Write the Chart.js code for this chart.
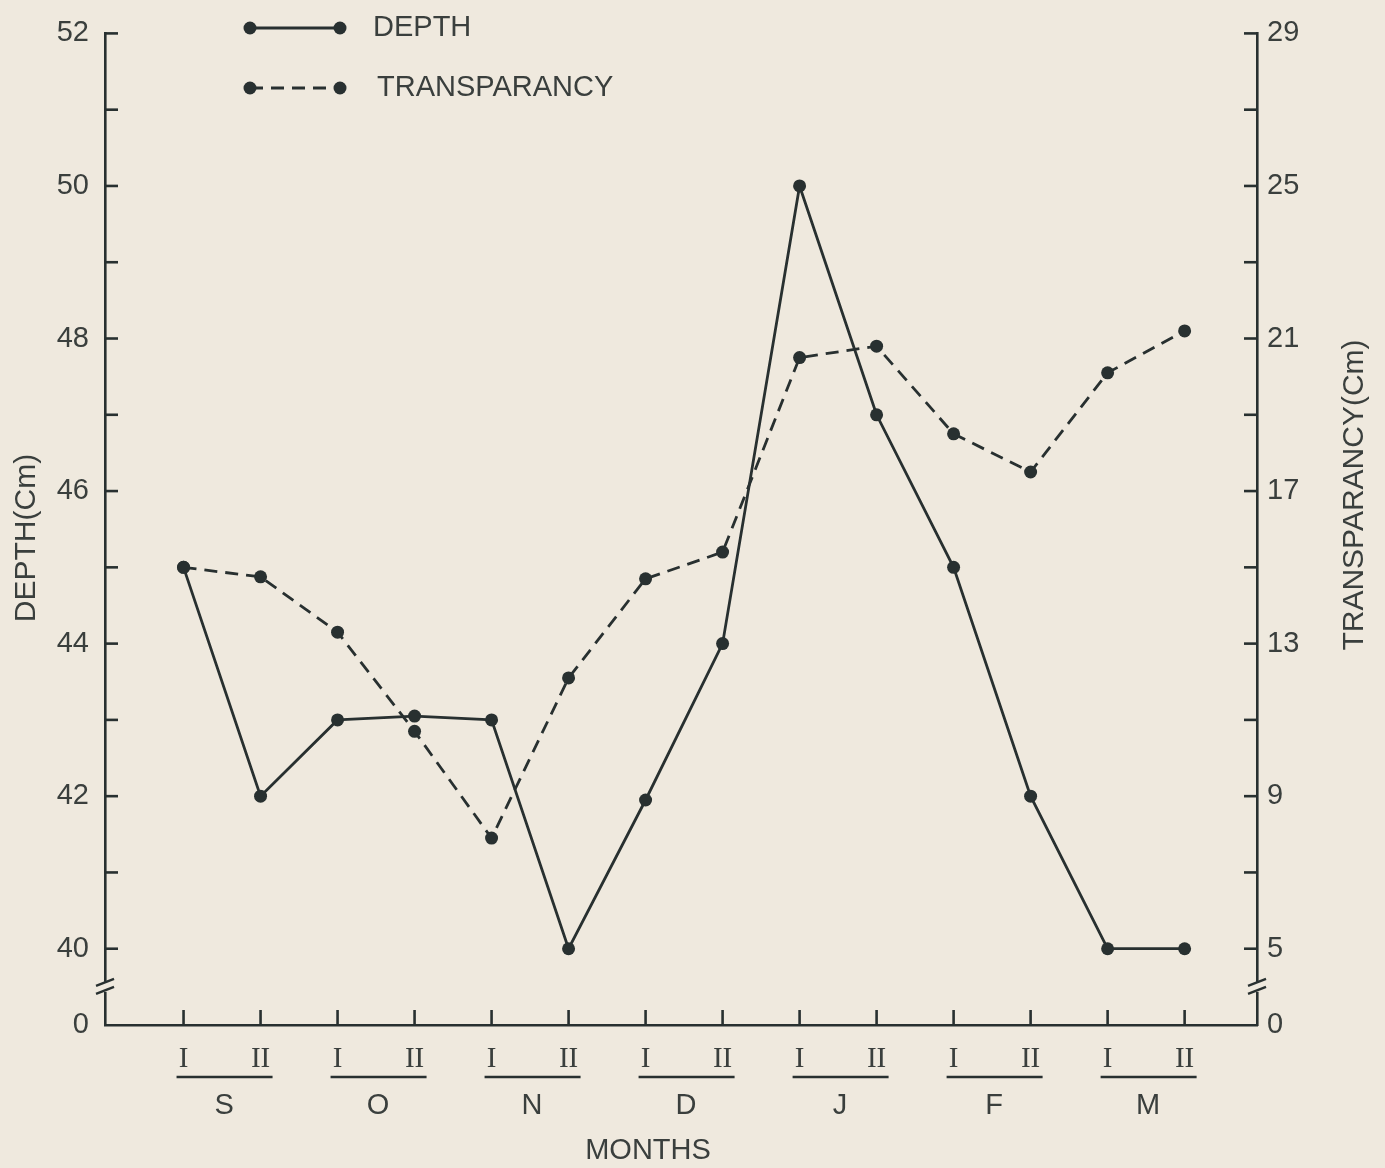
<!DOCTYPE html>
<html>
<head>
<meta charset="utf-8">
<title>Depth and transparency</title>
<script src="https://cdn.jsdelivr.net/npm/chart.js@4"></script>
<style>
  html, body { margin: 0; padding: 0; background: #efe9de; }
  canvas { display: block; }
</style>
</head>
<body>
<canvas id="chart" width="1385" height="1168"></canvas>
<script>
// fortnights (I / II) within each month, September to March
const halves = ["I", "II", "I", "II", "I", "II", "I", "II", "I", "II", "I", "II", "I", "II"];
const months = ["S", "O", "N", "D", "J", "F", "M"];

// depth in cm, left axis
const depth = [45, 42, 43, 43.05, 43, 40, 41.95, 44, 50, 47, 45, 42, 40, 40];
// transparency in cm, right axis
const transparency = [15, 14.75, 13.3, 10.7, 7.9, 12.1, 14.7, 15.4, 20.5, 20.8, 18.5, 17.5, 20.1, 21.2];

// labelled ticks; the bottom of each axis is a broken "0"
const depthLabels = [40, 42, 44, 46, 48, 50, 52];
const transLabels = [5, 9, 13, 17, 21, 25, 29];

const INK = "#283030";
const TEXT = "#3a3f3d";
const PAPER = "#efe9de";
const FONT = "'Liberation Sans', Arial, sans-serif";

const points = arr => arr.map((v, i) => ({ x: i, y: v }));

function line(ctx, x1, y1, x2, y2) {
  ctx.beginPath();
  ctx.moveTo(x1, y1);
  ctx.lineTo(x2, y2);
  ctx.stroke();
}

function axisBreak(ctx, cx, cy) {
  ctx.fillStyle = PAPER;
  ctx.fillRect(cx - 4, cy - 5, 8, 10);
  ctx.lineWidth = 2.4;
  line(ctx, cx - 9, cy - 1, cx + 9, cy - 8);
  line(ctx, cx - 9, cy + 7, cx + 9, cy);
}

// integer ticks only, so every fortnight keeps its label
function wholeTicks(from, to) {
  return scale => {
    scale.ticks = [];
    for (let v = from; v <= to; v++) scale.ticks.push({ value: v });
  };
}

// inward ticks, axis breaks, month groups, legend and axis titles
const paperAxes = {
  id: "paperAxes",
  afterDraw(chart) {
    const { ctx, chartArea: a, scales } = chart;
    const { x, y, y2 } = scales;
    ctx.save();
    ctx.strokeStyle = INK;
    ctx.lineWidth = 2.6;

    for (let v = 40; v <= 52; v++) {
      const py = y.getPixelForValue(v);
      line(ctx, a.left, py, a.left + 13, py);
    }
    for (let v = 5; v <= 29; v += 2) {
      const py = y2.getPixelForValue(v);
      line(ctx, a.right, py, a.right - 13, py);
    }
    halves.forEach((_, i) => {
      const px = x.getPixelForValue(i);
      line(ctx, px, a.bottom, px, a.bottom - 15);
    });

    axisBreak(ctx, a.left, y.getPixelForValue(39.5));
    axisBreak(ctx, a.right, y2.getPixelForValue(4));

    // month underlines and letters
    ctx.lineWidth = 2.6;
    ctx.fillStyle = TEXT;
    ctx.font = "29px " + FONT;
    ctx.textAlign = "center";
    ctx.textBaseline = "middle";
    months.forEach((m, k) => {
      const x1 = x.getPixelForValue(2 * k);
      const x2 = x.getPixelForValue(2 * k + 1);
      line(ctx, x1 - 7, a.bottom + 52, x2 + 12, a.bottom + 52);
      ctx.fillText(m, (x1 + x2) / 2 + 2, a.bottom + 81);
    });
    ctx.fillText("MONTHS", (a.left + a.right) / 2 - 33, a.bottom + 126);

    // legend
    const sets = chart.data.datasets;
    const rows = [28, 88];
    sets.forEach((ds, i) => {
      const ly = rows[i];
      ctx.strokeStyle = INK;
      ctx.lineWidth = ds.borderWidth;
      ctx.setLineDash(ds.borderDash || []);
      line(ctx, 250, ly, 340, ly);
      ctx.setLineDash([]);
      ctx.fillStyle = INK;
      [250, 340].forEach(px => {
        ctx.beginPath();
        ctx.arc(px, ly, ds.pointRadius, 0, Math.PI * 2);
        ctx.fill();
      });
      ctx.fillStyle = TEXT;
      ctx.textAlign = "left";
      ctx.fillText(ds.label, 373 + i * 4, ly);
    });

    // axis titles, both reading upwards
    ctx.fillStyle = TEXT;
    ctx.textAlign = "center";
    ctx.font = "30px " + FONT;
    ctx.save();
    ctx.translate(27, 538);
    ctx.rotate(-Math.PI / 2);
    ctx.fillText("DEPTH(Cm)", 0, 0);
    ctx.restore();
    ctx.save();
    ctx.translate(1355, 495);
    ctx.rotate(-Math.PI / 2);
    ctx.fillText("TRANSPARANCY(Cm)", 0, 0);
    ctx.restore();

    ctx.restore();
  }
};

new Chart(document.getElementById("chart"), {
  type: "line",
  data: {
    datasets: [
      {
        label: "DEPTH",
        data: points(depth),
        yAxisID: "y",
        borderColor: INK,
        borderWidth: 2.8,
        pointRadius: 6.5,
        pointBorderWidth: 0,
        pointBackgroundColor: INK,
        tension: 0
      },
      {
        label: "TRANSPARANCY",
        data: points(transparency),
        yAxisID: "y2",
        borderColor: INK,
        borderWidth: 2.8,
        borderDash: [13, 8],
        pointRadius: 6.5,
        pointBorderWidth: 0,
        pointBackgroundColor: INK,
        tension: 0
      }
    ]
  },
  options: {
    responsive: false,
    animation: false,
    devicePixelRatio: 1,
    layout: { padding: { top: 28, left: 0, right: 0, bottom: 0 } },
    plugins: {
      legend: { display: false },
      tooltip: { enabled: false }
    },
    scales: {
      x: {
        type: "linear",
        min: -1.02,
        max: 13.94,
        afterFit: s => { s.height = 143; },
        afterBuildTicks: wholeTicks(0, halves.length - 1),
        grid: { display: false, drawTicks: false },
        border: { display: true, color: INK, width: 2.6 },
        ticks: {
          autoSkip: false,
          maxRotation: 0,
          padding: 17,
          color: TEXT,
          font: { family: "'Liberation Serif', 'Times New Roman', serif", size: 29 },
          callback: v => halves[v] || ""
        }
      },
      y: {
        position: "left",
        min: 39,
        max: 52,
        afterFit: s => { s.width = 105; },
        afterBuildTicks: wholeTicks(39, 52),
        grid: { display: false, drawTicks: false },
        border: { display: true, color: INK, width: 2.6 },
        ticks: {
          autoSkip: false,
          padding: 16,
          color: TEXT,
          font: { family: FONT, size: 29 },
          callback: v => (v === 39 ? "0" : depthLabels.includes(v) ? String(v) : "")
        }
      },
      y2: {
        position: "right",
        min: 3,
        max: 29,
        afterFit: s => { s.width = 128; },
        afterBuildTicks: wholeTicks(3, 29),
        grid: { display: false, drawTicks: false },
        border: { display: true, color: INK, width: 2.6 },
        ticks: {
          autoSkip: false,
          padding: 10,
          color: TEXT,
          font: { family: FONT, size: 29 },
          callback: v => (v === 3 ? "0" : transLabels.includes(v) ? String(v) : "")
        }
      }
    }
  },
  plugins: [paperAxes]
});
</script>
</body>
</html>
